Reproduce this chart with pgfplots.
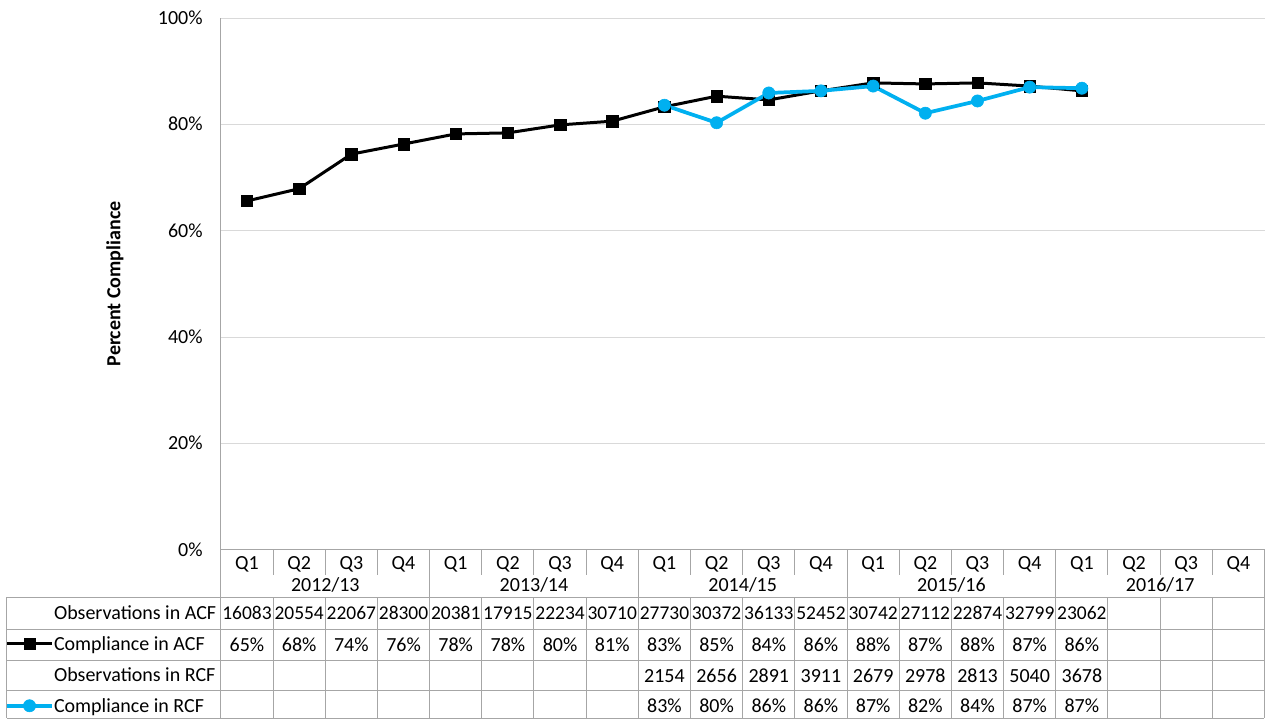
\documentclass[border=0pt]{standalone}
\usepackage{pgfplots}
\pgfplotsset{compat=1.18}
\usepackage{fontspec}
\setmainfont{Carlito}
\definecolor{rcf}{HTML}{00B0F0}
\definecolor{gridc}{HTML}{D9D9D9}
\definecolor{axc}{HTML}{A6A6A6}
\definecolor{tabc}{HTML}{A6A6A6}
\newcommand{\tf}{\fontsize{15}{17}\selectfont}
\newcommand{\nf}{\fontsize{14.6}{17}\selectfont}
\begin{document}
\begin{tikzpicture}
\begin{scope}[x=0.75pt,y=-0.75pt]
\path[use as bounding box] (0,0) rectangle (1265,719);
\end{scope}
\begin{axis}[
  at={(165.75pt,-412.5pt)}, anchor=south west,
  scale only axis, width=783pt, height=399pt,
  xmin=-0.5, xmax=19.5, ymin=0, ymax=100,
  axis x line=bottom, axis y line=left,
  axis line style={draw=axc,line width=0.75pt,-},
  xtick={0,...,19},
  xticklabels={Q1,Q2,Q3,Q4,Q1,Q2,Q3,Q4,Q1,Q2,Q3,Q4,Q1,Q2,Q3,Q4,Q1,Q2,Q3,Q4},
  major tick length=0pt,
  ytick={0,20,...,100},
  yticklabels={0\%,20\%,40\%,60\%,80\%,100\%},
  ymajorgrids, grid style={gridc, line width=0.75pt},
  tick label style={font=\tf, inner sep=0pt, text height=9.5pt, text depth=0pt},
  xticklabel style={anchor=center, yshift=-10pt},
  yticklabel style={anchor=east, xshift=-13.5pt},
  ylabel={Percent Compliance},
  every axis y label/.style={at={(axis description cs:-0.1015,0.5)}, rotate=90, anchor=center, font=\tf\bfseries},
  clip=false,
  legend style={at={(axis description cs:-0.2069,-0.1066)}, anchor=north west,
    draw=none, fill=none, inner sep=0pt, outer sep=0pt, row sep=13.75pt,
    font=\tf, nodes={inner sep=0pt, text height=9.5pt, text depth=0pt}},
  legend cell align=left,
  legend image code/.code={\draw[mark repeat=2,mark phase=2,#1] plot coordinates {(0pt,0pt)(17pt,0pt)(34pt,0pt)};},
]
\addlegendimage{empty legend}
\addlegendentry{Observations in ACF}
\addplot[black, line width=2.25pt, mark=square*, mark size=4.3pt, mark options={solid, line width=0.4pt}]
  coordinates {(0,65.6)(1,67.9)(2,74.4)(3,76.3)(4,78.2)(5,78.4)(6,79.9)(7,80.6)
  (8,83.3)(9,85.3)(10,84.6)(11,86.3)(12,87.8)(13,87.6)(14,87.8)(15,87.2)(16,86.3)};
\addlegendentry{Compliance in ACF}
\addlegendimage{empty legend}
\addlegendentry{Observations in RCF}
\addplot[rcf, line width=2.8pt, mark=*, mark size=4.6pt, mark options={solid, line width=0.4pt}]
  coordinates {(8,83.6)(9,80.3)(10,85.9)(11,86.3)(12,87.2)(13,82.1)(14,84.4)(15,87.0)(16,86.8)};
\addlegendentry{Compliance in RCF}
\end{axis}
\begin{scope}[x=0.75pt,y=-0.75pt, font=\tf, every node/.style={inner sep=0pt, text height=9.5pt, text depth=0pt}]
  % category separators
  \foreach \k in {1,2,3,5,6,7,9,10,11,13,14,15,17,18,19}
    \draw[tabc, line width=0.75pt] ({221+52.2*\k},550) -- ({221+52.2*\k},575);
  \foreach \k in {0,4,8,12,16}
    \draw[tabc, line width=0.75pt] ({221+52.2*\k},550) -- ({221+52.2*\k},597.5);
  \draw[tabc, line width=0.75pt] (1264.5,550) -- (1264.5,597.5);
  % table grid
  \foreach \y in {597.5,629.5,661,691,718.5}
    \draw[tabc, line width=0.75pt] (7,\y) -- (1264.5,\y);
  \draw[tabc, line width=0.75pt] (7,597.5) -- (7,718.5);
  \foreach \k in {0,...,19}
    \draw[tabc, line width=0.75pt] ({221+52.2*\k},597.5) -- ({221+52.2*\k},718.5);
  \draw[tabc, line width=0.75pt] (1264.5,597.5) -- (1264.5,718.5);
  % years
  \foreach \t [count=\i from 0] in {2012/13,2013/14,2014/15,2015/16,2016/17}
    \node at ({325.4+208.8*\i},585) {\t};
  % rows
  \foreach \v [count=\i from 0] in {16083,20554,22067,28300,20381,17915,22234,30710,27730,30372,36133,52452,30742,27112,22874,32799,23062}
    \node[font=\nf] at ({247.1+52.2*\i},613) {\v};
  \foreach \v [count=\i from 0] in {65,68,74,76,78,78,80,81,83,85,84,86,88,87,88,87,86}
    \node at ({247.1+52.2*\i},645) {\v\%};
  \foreach \v [count=\i from 8] in {2154,2656,2891,3911,2679,2978,2813,5040,3678}
    \node at ({247.1+52.2*\i},676) {\v};
  \foreach \v [count=\i from 8] in {83,80,86,86,87,82,84,87,87}
    \node at ({247.1+52.2*\i},706) {\v\%};
\end{scope}
\end{tikzpicture}
\end{document}
